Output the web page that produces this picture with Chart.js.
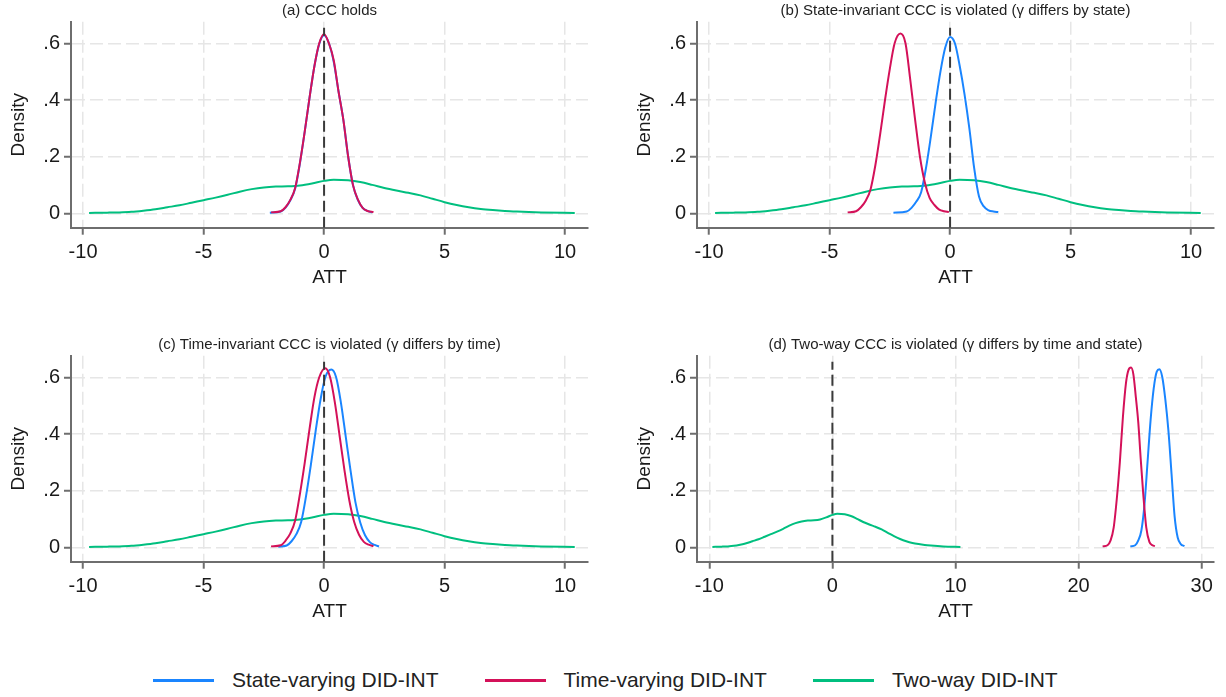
<!DOCTYPE html>
<html><head><meta charset="utf-8">
<script src="https://cdn.jsdelivr.net/npm/chart.js@4.4.1/dist/chart.umd.min.js"></script>
<style>
html,body{margin:0;padding:0;background:#fff;}
body{width:1226px;height:697px;position:relative;overflow:hidden;font-family:"Liberation Sans",Arial,sans-serif;}
.panel{position:absolute;width:600px;height:334px;}
#legend{position:absolute;left:153px;top:668px;height:24px;display:flex;align-items:center;font-size:21px;color:#222;white-space:nowrap;}
.sw{display:inline-block;width:61px;height:3px;margin-right:18px;}
.lbl{margin-right:46px;}
</style></head><body>
<canvas id="pa" class="panel" width="600" height="334" style="left:0;top:0"></canvas>
<canvas id="pb" class="panel" width="600" height="334" style="left:626px;top:0"></canvas>
<canvas id="pc" class="panel" width="600" height="334" style="left:0;top:334px"></canvas>
<canvas id="pd" class="panel" width="600" height="334" style="left:626px;top:334px"></canvas>
<div id="legend"></div>
<script>
// ---------- data ----------
const seriesNames = ['State-varying DID-INT', 'Time-varying DID-INT', 'Two-way DID-INT'];
const panelTitles = [
  '(a) CCC holds',
  '(b) State-invariant CCC is violated (\u03b3 differs by state)',
  '(c) Time-invariant CCC is violated (\u03b3 differs by time)',
  '(d) Two-way CCC is violated (\u03b3 differs by time and state)'
];
const densityTicks = [0, 0.2, 0.4, 0.6];
const densityTickLabels = ['0', '.2', '.4', '.6'];
const attTicksNarrow = [-10, -5, 0, 5, 10];
const attTicksWide = [-10, 0, 10, 20, 30];
const refLineX = 0;

// Two-way DID-INT (same in all panels)
const twoWayX = [-9.75, -9, -8.5, -8, -7.5, -7, -6.5, -6, -5.5, -5, -4.5, -4, -3.5, -3, -2.5, -2, -1.5, -1, -0.5, 0, 0.4, 1, 1.5, 2, 2.5, 3, 3.5, 4, 4.5, 5, 5.5, 6, 6.5, 7, 7.5, 8, 9, 10.4];
const twoWayY = [0.002, 0.003, 0.004, 0.006, 0.010, 0.015, 0.022, 0.029, 0.038, 0.047, 0.056, 0.066, 0.077, 0.086, 0.092, 0.095, 0.096, 0.099, 0.106, 0.115, 0.119, 0.117, 0.111, 0.101, 0.090, 0.081, 0.073, 0.064, 0.052, 0.040, 0.030, 0.022, 0.016, 0.012, 0.009, 0.007, 0.004, 0.002];

// (a)
const aStateX = [-2.25, -1.8, -1.6, -1.4, -1.2, -1.0, -0.8, -0.6, -0.4, -0.2, 0.0, 0.2, 0.4, 0.6, 0.8, 1.0, 1.2, 1.4, 1.6, 1.8, 2.0];
const aStateY = [0.003, 0.007, 0.021, 0.047, 0.088, 0.178, 0.29, 0.41, 0.52, 0.598, 0.628, 0.6, 0.535, 0.43, 0.33, 0.2, 0.1, 0.048, 0.02, 0.009, 0.004];
const aTimeX = [-2.2, -1.8, -1.6, -1.4, -1.2, -1.0, -0.8, -0.6, -0.4, -0.2, 0.0, 0.2, 0.4, 0.6, 0.8, 1.0, 1.2, 1.4, 1.6, 1.8, 2.05];
const aTimeY = [0.004, 0.008, 0.022, 0.048, 0.09, 0.18, 0.29, 0.41, 0.52, 0.6, 0.632, 0.6, 0.54, 0.43, 0.33, 0.2, 0.1, 0.05, 0.02, 0.009, 0.005];

// (b)
const bStateX = [-2.35, -1.8, -1.6, -1.4, -1.2, -1.0, -0.8, -0.6, -0.4, -0.2, 0.0, 0.2, 0.4, 0.6, 0.8, 1.0, 1.2, 1.4, 1.6, 1.8, 2.0];
const bStateY = [0.003, 0.007, 0.02, 0.042, 0.075, 0.16, 0.27, 0.39, 0.5, 0.585, 0.622, 0.6, 0.52, 0.42, 0.3, 0.16, 0.06, 0.025, 0.011, 0.007, 0.005];
const bTimeX = [-4.25, -3.9, -3.7, -3.5, -3.3, -3.1, -2.9, -2.7, -2.5, -2.3, -2.06, -1.85, -1.65, -1.45, -1.25, -1.05, -0.85, -0.65, -0.45, -0.25, -0.05];
const bTimeY = [0.004, 0.008, 0.022, 0.045, 0.085, 0.17, 0.28, 0.4, 0.51, 0.6, 0.634, 0.6, 0.47, 0.33, 0.2, 0.11, 0.055, 0.03, 0.014, 0.008, 0.005];

// (c)
const cStateX = [-1.9, -1.55, -1.35, -1.15, -0.95, -0.75, -0.55, -0.35, -0.15, 0.05, 0.3, 0.5, 0.7, 0.9, 1.1, 1.3, 1.5, 1.7, 1.9, 2.1, 2.28];
const cStateY = [0.003, 0.007, 0.022, 0.047, 0.09, 0.18, 0.29, 0.41, 0.52, 0.6, 0.627, 0.6, 0.51, 0.39, 0.27, 0.16, 0.088, 0.043, 0.019, 0.009, 0.004];
const cTimeX = [-2.2, -1.8, -1.6, -1.4, -1.2, -1.0, -0.8, -0.6, -0.4, -0.2, 0.05, 0.25, 0.45, 0.65, 0.85, 1.05, 1.25, 1.45, 1.65, 1.85, 2.05];
const cTimeY = [0.004, 0.008, 0.024, 0.05, 0.095, 0.19, 0.3, 0.42, 0.53, 0.6, 0.632, 0.6, 0.51, 0.39, 0.27, 0.165, 0.09, 0.045, 0.02, 0.01, 0.005];

// (d)
const dStateX = [24.2, 24.6, 24.85, 25.1, 25.35, 25.6, 25.85, 26.1, 26.35, 26.56, 26.8, 27.05, 27.3, 27.55, 27.8, 28.05, 28.3, 28.6];
const dStateY = [0.004, 0.008, 0.025, 0.06, 0.15, 0.3, 0.45, 0.56, 0.62, 0.628, 0.6, 0.52, 0.41, 0.26, 0.11, 0.035, 0.012, 0.005];
const dTimeX = [21.95, 22.35, 22.6, 22.85, 23.1, 23.35, 23.6, 23.85, 24.05, 24.26, 24.45, 24.65, 24.85, 25.05, 25.25, 25.5, 25.75, 26.0, 26.2];
const dTimeY = [0.004, 0.008, 0.025, 0.07, 0.17, 0.3, 0.46, 0.58, 0.625, 0.634, 0.61, 0.53, 0.44, 0.31, 0.19, 0.07, 0.02, 0.008, 0.005];

// ---------- styling ----------
const FONT = '"Liberation Sans", Arial, sans-serif';
const COLORS = { state: '#1a85ff', time: '#d41159', two: '#00bf7f', ref: '#3a3a3a' };
const Y_MIN = -0.05, Y_MAX = 0.676, REF_TOP = 0.655;
const AXIS = '#6e6e6e', GRID = '#e6e6e6', TEXT = '#1a1a1a';

function pts(xs, ys) { return xs.map((x, i) => ({ x: x, y: ys[i] })); }

function lineDs(label, data, color, order) {
  return { label: label, data: data, borderColor: color, backgroundColor: color, borderWidth: 2,
    pointRadius: 0, fill: false, cubicInterpolationMode: 'monotone', order: order };
}

function makePanel(id, title, stateX, stateY, timeX, timeY, xTicks, xMin, xMax) {
  const datasets = [
    { label: 'ref', data: [{ x: refLineX, y: Y_MIN }, { x: refLineX, y: REF_TOP }], borderColor: COLORS.ref,
      borderWidth: 2, borderDash: [11, 5], pointRadius: 0, fill: false, order: 0 },
    lineDs(seriesNames[1], pts(timeX, timeY), COLORS.time, 1),
    lineDs(seriesNames[0], pts(stateX, stateY), COLORS.state, 2),
    lineDs(seriesNames[2], pts(twoWayX, twoWayY), COLORS.two, 3)
  ];
  const gridOpts = { color: GRID, lineWidth: 1.5, tickLength: 7, tickColor: AXIS, tickWidth: 2, borderDash: [13, 5], tickBorderDash: [] };
  const borderOpts = { display: true, color: AXIS, width: 2, dash: [13, 5] };
  return new Chart(document.getElementById(id), {
    type: 'line',
    data: { datasets: datasets },
    options: {
      responsive: false, animation: false, devicePixelRatio: 1,
      layout: { padding: { left: 0, right: 12, top: 0, bottom: 41.3 } },
      plugins: {
        legend: { display: false }, tooltip: { enabled: false },
        title: { display: true, text: title, fullSize: false, color: '#222',
          font: { family: FONT, size: 15, weight: 'normal' }, padding: { top: 1.5, bottom: 2.2 } }
      },
      scales: {
        x: {
          type: 'linear', min: xMin, max: xMax,
          afterBuildTicks: s => { s.ticks = xTicks.map(v => ({ value: v })); },
          afterFit: s => { s.height = 65; },
          ticks: { font: { family: FONT, size: 20 }, color: TEXT, padding: 6, maxRotation: 0, autoSkip: false,
            callback: (v, i) => String(xTicks[i]) },
          grid: gridOpts, border: borderOpts,
          title: { display: true, text: 'ATT', color: TEXT, font: { family: FONT, size: 19 }, padding: { top: 0, bottom: 4 } }
        },
        y: {
          type: 'linear', min: Y_MIN, max: Y_MAX,
          afterBuildTicks: s => { s.ticks = densityTicks.map(v => ({ value: v })); },
          afterFit: s => { s.width = 71; },
          ticks: { font: { family: FONT, size: 20 }, color: TEXT, padding: 4,
            callback: (v, i) => densityTickLabels[i] },
          grid: gridOpts, border: borderOpts,
          title: { display: true, text: 'Density', color: TEXT, font: { family: FONT, size: 19 }, padding: { top: 7.6, bottom: 0 } }
        }
      }
    }
  });
}

makePanel('pa', panelTitles[0], aStateX, aStateY, aTimeX, aTimeY, attTicksNarrow, -10.5, 10.95);
makePanel('pb', panelTitles[1], bStateX, bStateY, bTimeX, bTimeY, attTicksNarrow, -10.5, 10.95);
makePanel('pc', panelTitles[2], cStateX, cStateY, cTimeX, cTimeY, attTicksNarrow, -10.5, 10.95);
makePanel('pd', panelTitles[3], dStateX, dStateY, dTimeX, dTimeY, attTicksWide, -11, 31);

// ---------- legend ----------
const legendColors = [COLORS.state, COLORS.time, COLORS.two];
const legend = document.getElementById('legend');
seriesNames.forEach((name, i) => {
  const sw = document.createElement('span');
  sw.className = 'sw'; sw.style.background = legendColors[i];
  const lb = document.createElement('span');
  lb.className = 'lbl'; lb.textContent = name;
  if (i === seriesNames.length - 1) lb.style.marginRight = '0';
  legend.appendChild(sw); legend.appendChild(lb);
});
</script>
</body></html>
